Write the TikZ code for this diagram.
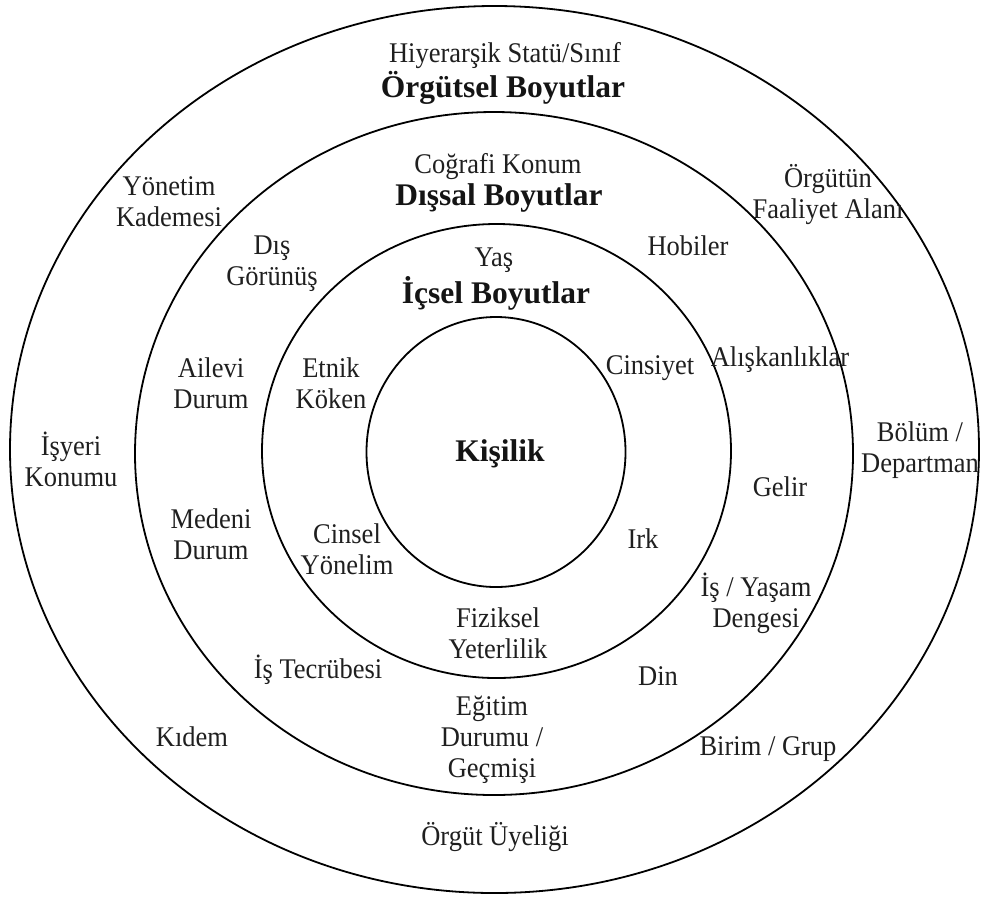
\documentclass[tikz,border=0pt]{standalone}
\usepackage{fontspec}
\setmainfont{Liberation Serif}
\newfontfamily\lblfont{Liberation Serif}[FakeStretch=0.93]
\newcommand{\LblSize}{\lblfont\fontsize{28.5}{31}\selectfont}
\newcommand{\HeadSize}{\fontsize{31.5}{36}\selectfont\bfseries}

\begin{document}
\begin{tikzpicture}[
                x=1pt, y=-1pt,
                ring/.style={line width=1.8pt, black},
                lbl/.style={font=\LblSize, align=center, inner sep=0pt, text=black!88},
                head/.style={font=\HeadSize, align=center, inner sep=0pt, text=black!92},
            ]
            \useasboundingbox (0,0) rectangle (981,898);

            % Rings, outer to inner
            \draw[ring] (494.5,449.5) ellipse [x radius=484.5pt, y radius=443.5pt];
            \draw[ring] (494,453.5)   ellipse [x radius=359pt,   y radius=341.5pt];
            \draw[ring] (496.5,451)   ellipse [x radius=234.5pt, y radius=227pt];
            \draw[ring] (496,452)     ellipse [x radius=129.5pt, y radius=135pt];

            % Organisational ring
            \node[lbl,anchor=base]  (hier)   at (505,62)    {Hiyerarşik Statü/Sınıf};
            \node[head,anchor=base] (orgHd)  at (503,97)    {Örgütsel Boyutlar};
            \node[lbl]              (yonet)  at (169,202)   {Yönetim\\Kademesi};
            \node[lbl]              (faal)   at (828,194.5) {Örgütün\\Faaliyet Alanı};
            \node[lbl]              (isyeri) at (71,459)    {İşyeri\\Konumu};
            \node[lbl]              (bolum)  at (920,450)   {Bölüm /\\Departman};
            \node[lbl,anchor=base]  (kidem)  at (192,746)   {Kıdem};
            \node[lbl,anchor=base]  (birim)  at (768,755)   {Birim / Grup};
            \node[lbl,anchor=base]  (uyelik) at (495,845)   {Örgüt Üyeliği};

            % External ring
            \node[lbl,anchor=base]  (cograf) at (498,173)   {Coğrafi Konum};
            \node[head,anchor=base] (disHd)  at (499,205)   {Dışsal Boyutlar};
            \node[lbl]              (gorun)  at (272,264)   {Dış\\Görünüş};
            \node[lbl,anchor=base]  (hobi)   at (688,255)   {Hobiler};
            \node[lbl]              (aile)   at (211,383.5) {Ailevi\\Durum};
            \node[lbl,anchor=base]  (aliskn) at (780,366)   {Alışkanlıklar};
            \node[lbl,anchor=base]  (gelir)  at (780,496)   {Gelir};
            \node[lbl]              (medeni) at (211,534.5) {Medeni\\Durum};
            \node[lbl]              (denge)  at (756,603)   {İş / Yaşam\\Dengesi};
            \node[lbl,anchor=base]  (tecrub) at (318,678)   {İş Tecrübesi};
            \node[lbl,anchor=base]  (din)    at (658,685)   {Din};
            \node[lbl]              (egitim) at (492,739.5) {Eğitim\\Durumu /\\Geçmişi};

            % Internal ring
            \node[lbl,anchor=base]  (yas)    at (494,266)   {Yaş};
            \node[head,anchor=base] (icHd)   at (496,303)   {İçsel Boyutlar};
            \node[lbl]              (etnik)  at (331,383.5) {Etnik\\Köken};
            \node[lbl,anchor=base]  (cinsiy) at (650,374)   {Cinsiyet};
            \node[lbl]              (cinsel) at (347,549.5) {Cinsel\\Yönelim};
            \node[lbl,anchor=base]  (irk)    at (643,548)   {Irk};
            \node[lbl]              (fizik)  at (498,633)   {Fiziksel\\Yeterlilik};

            % Core
            \node[head,anchor=base] (kisi)   at (500,461)   {Kişilik};
        \end{tikzpicture}
\end{document}
